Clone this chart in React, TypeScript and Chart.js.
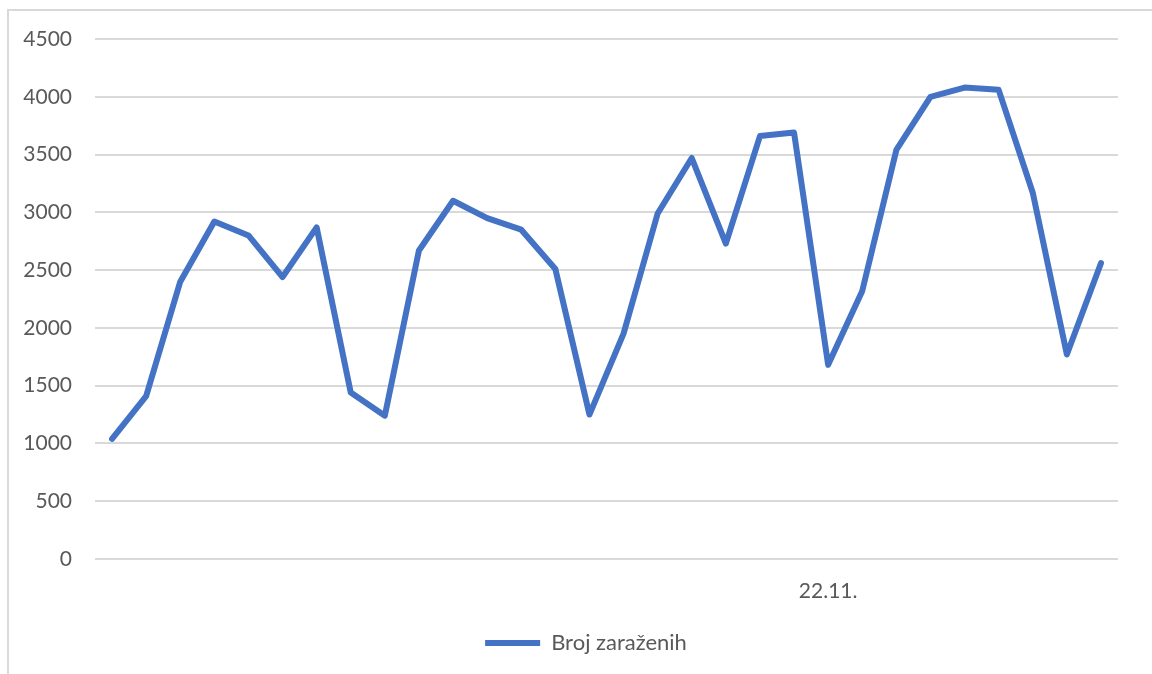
import React, { useEffect, useRef } from "react";
import { Chart, registerables } from "chart.js";

Chart.register(...registerables);

const categories: string[] = [
  "1.11.", "2.11.", "3.11.", "4.11.", "5.11.", "6.11.", "7.11.", "8.11.", "9.11.", "10.11.",
  "11.11.", "12.11.", "13.11.", "14.11.", "15.11.", "16.11.", "17.11.", "18.11.", "19.11.", "20.11.",
  "21.11.", "22.11.", "23.11.", "24.11.", "25.11.", "26.11.", "27.11.", "28.11.", "29.11.", "30.11.",
];
const shownLabels: string[] = ["22.11."];
const seriesName = "Broj zaraženih";
const infected: number[] = [
  1040, 1410, 2400, 2920, 2800, 2440, 2870, 1440, 1240, 2670,
  3100, 2950, 2850, 2510, 1250, 1950, 2990, 3470, 2730, 3660,
  3690, 1680, 2320, 3540, 4000, 4080, 4060, 3170, 1770, 2560,
];
const yTicks: number[] = [0, 500, 1000, 1500, 2000, 2500, 3000, 3500, 4000, 4500];

const FONT = "Lato, 'Open Sans', sans-serif";
const TEXT = "#595959";

const legendShift = {
  id: "legendShift",
  afterLayout(chart: any) {
    const lg = chart.legend;
    if (lg) {
      lg.left += 22;
      lg.right += 22;
    }
  },
};

export default function App() {
  const ref = useRef<HTMLCanvasElement | null>(null);
  useEffect(() => {
    if (!ref.current) return;
    const chart = new Chart(ref.current, {
      type: "line",
      data: {
        labels: categories,
        datasets: [
          {
            label: seriesName,
            data: infected,
            borderColor: "#4472C4",
            backgroundColor: "#4472C4",
            borderWidth: 6,
            borderCapStyle: "round",
            borderJoinStyle: "round",
            pointRadius: 0,
            pointHoverRadius: 0,
            tension: 0,
            fill: false,
          },
        ],
      },
      plugins: [legendShift],
      options: {
        animation: false,
        responsive: false,
        maintainAspectRatio: false,
        layout: { padding: { left: 10, right: 34, top: 39, bottom: 10 } },
        plugins: {
          tooltip: { enabled: false },
          legend: {
            position: "bottom",
            labels: {
              usePointStyle: true,
              pointStyle: "line",
              pointStyleWidth: 55,
              color: TEXT,
              font: { family: FONT, size: 22 },
              padding: 10,
            },
          },
        },
        scales: {
          x: {
            offset: true,
            grid: { display: false, drawTicks: false },
            border: { display: false },
            ticks: {
              autoSkip: false,
              maxRotation: 0,
              color: TEXT,
              font: { family: FONT, size: 21 },
              padding: 20,
              callback: (_v: any, i: number) =>
                shownLabels.includes(categories[i]) ? categories[i] : "",
            },
            afterFit: (s: any) => {
              s.height = 63;
            },
          },
          y: {
            min: 0,
            max: 4500,
            afterBuildTicks: (s: any) => {
              s.ticks = yTicks.map((v) => ({ value: v }));
            },
            grid: { color: "#d9d9d9", lineWidth: 2, drawTicks: false },
            border: { display: false },
            ticks: {
              color: TEXT,
              font: { family: FONT, size: 21 },
              padding: 23,
              callback: (v: any) => String(v),
            },
            afterFit: (s: any) => {
              s.width = 85;
            },
          },
        },
      },
    });
    return () => chart.destroy();
  }, []);
  return (
    <div>
      <div
        style={{
          position: "absolute",
          left: 7,
          top: 9,
          width: 1152 - 7,
          height: 674 - 9,
          borderLeft: "2px solid #d9d9d9",
          borderTop: "2px solid #d9d9d9",
          boxSizing: "border-box",
        }}
      />
      <canvas
        ref={ref}
        width={1152}
        height={674}
        style={{ position: "absolute", left: 0, top: 0, width: 1152, height: 674 }}
      />
    </div>
  );
}
